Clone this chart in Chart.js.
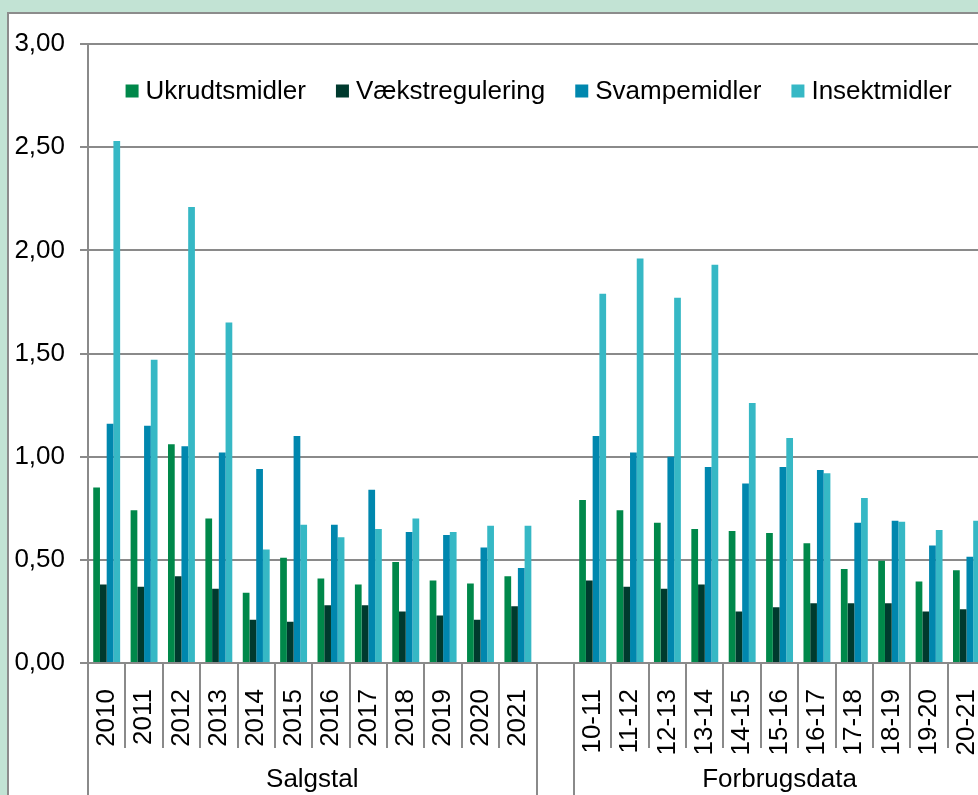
<!DOCTYPE html>
<html>
<head>
<meta charset="utf-8">
<script src="https://cdn.jsdelivr.net/npm/chart.js@4.4.1/dist/chart.umd.min.js"></script>
<style>
  html, body { margin: 0; padding: 0; overflow: hidden; }
  body { width: 978px; height: 795px; background: #c2e3d4; position: relative; }
  .panel { position: absolute; left: 7px; top: 12px; width: 1100px; height: 900px; background: #fff; border: 2px solid #8c8c8c; }
  #chart { position: absolute; left: 0; top: 0; }
</style>
</head>
<body>
<div class="panel"></div>
<canvas id="chart" width="1016" height="830"></canvas>
<script>
// Kategorier: salgstal (år), tom plads, forbrugsdata (sæsoner)
const labels = ['2010', '2011', '2012', '2013', '2014', '2015', '2016', '2017', '2018', '2019', '2020', '2021', '',
  '10-11', '11-12', '12-13', '13-14', '14-15', '15-16', '16-17', '17-18', '18-19', '19-20', '20-21'];

const ukrudtsmidler = [0.85, 0.74, 1.06, 0.70, 0.34, 0.51, 0.41, 0.38, 0.49, 0.40, 0.385, 0.42, null,
  0.79, 0.74, 0.68, 0.65, 0.64, 0.63, 0.58, 0.455, 0.495, 0.395, 0.45];
const vaekstregulering = [0.38, 0.37, 0.42, 0.36, 0.21, 0.20, 0.28, 0.28, 0.25, 0.23, 0.21, 0.275, null,
  0.40, 0.37, 0.36, 0.38, 0.25, 0.27, 0.29, 0.29, 0.29, 0.25, 0.26];
const svampemidler = [1.16, 1.15, 1.05, 1.02, 0.94, 1.10, 0.67, 0.84, 0.635, 0.62, 0.56, 0.46, null,
  1.10, 1.02, 1.00, 0.95, 0.87, 0.95, 0.935, 0.68, 0.69, 0.57, 0.515];
const insektmidler = [2.53, 1.47, 2.21, 1.65, 0.55, 0.67, 0.61, 0.65, 0.70, 0.635, 0.665, 0.665, null,
  1.79, 1.96, 1.77, 1.93, 1.26, 1.09, 0.92, 0.80, 0.685, 0.645, 0.69];

const groups = [
  { label: 'Salgstal', from: 0, to: 11 },
  { label: 'Forbrugsdata', from: 13, to: 23 }
];

const yMin = 0;
const yMax = 3;
const yStep = 0.5;

const FONT = "'Liberation Sans', Arial, sans-serif";
const GRID = '#8a8a8a';

// Grupperet x-akse: skillelinjer og gruppenavne
const groupAxis = {
  id: 'groupAxis',
  afterDraw(chart) {
    const ctx = chart.ctx;
    const x = chart.scales.x;
    const area = chart.chartArea;
    const half = (x.getPixelForValue(1) - x.getPixelForValue(0)) / 2;
    const edges = [];
    groups.forEach(g => { edges.push(g.from, g.to + 1); });

    ctx.save();
    ctx.strokeStyle = GRID;
    ctx.lineWidth = 2;
    for (let i = 0; i <= labels.length; i++) {
      const px = Math.round(x.getPixelForValue(i) - half);
      ctx.beginPath();
      ctx.moveTo(px, area.bottom);
      ctx.lineTo(px, edges.includes(i) ? chart.height : area.bottom + 85);
      ctx.stroke();
    }

    ctx.fillStyle = '#000';
    ctx.font = '26px ' + FONT;
    ctx.textAlign = 'center';
    ctx.textBaseline = 'middle';
    groups.forEach(g => {
      const cx = (x.getPixelForValue(g.from) + x.getPixelForValue(g.to)) / 2;
      ctx.fillText(g.label, cx, 780);
    });
    ctx.restore();
  }
};

// Forklaring inde i plotområdet
const innerLegend = {
  id: 'innerLegend',
  afterDraw(chart) {
    const ctx = chart.ctx;
    const area = chart.chartArea;
    const box = 13, gap = 7, spacing = 30;
    ctx.save();
    ctx.font = '26px ' + FONT;
    const items = chart.data.datasets.map(ds => ({ text: ds.label, color: ds.backgroundColor, w: ctx.measureText(ds.label).width }));
    const total = items.reduce((s, it) => s + box + gap + it.w, 0) + spacing * (items.length - 1);
    let px = (area.left + area.right) / 2 + 2 - total / 2;
    const cy = area.top + 47;
    ctx.textBaseline = 'middle';
    ctx.textAlign = 'left';
    items.forEach(it => {
      ctx.fillStyle = it.color;
      ctx.fillRect(px, cy - box / 2, box, box);
      ctx.fillStyle = '#000';
      ctx.fillText(it.text, px + box + gap, cy + 1);
      px += box + gap + it.w + spacing;
    });
    ctx.restore();
  }
};

const ctx = document.getElementById('chart');
new Chart(ctx, {
  type: 'bar',
  data: {
    labels: labels,
    datasets: [
      { label: 'Ukrudtsmidler', data: ukrudtsmidler, backgroundColor: '#00884a' },
      { label: 'Vækstregulering', data: vaekstregulering, backgroundColor: '#003a2e' },
      { label: 'Svampemidler', data: svampemidler, backgroundColor: '#0087ae' },
      { label: 'Insektmidler', data: insektmidler, backgroundColor: '#36b8c5' }
    ]
  },
  options: {
    responsive: false,
    animation: false,
    devicePixelRatio: 1,
    layout: { padding: { top: 44, right: 16, left: 0, bottom: 0 } },
    datasets: {
      bar: { barPercentage: 1, categoryPercentage: 0.72, borderWidth: 0 }
    },
    plugins: {
      legend: { display: false },
      tooltip: { enabled: false }
    },
    scales: {
      x: {
        grid: { display: false },
        border: { display: true, color: GRID, width: 2 },
        ticks: {
          color: '#000',
          font: { family: FONT, size: 26 },
          minRotation: 90,
          maxRotation: 90,
          autoSkip: false,
          padding: 18
        },
        afterFit(scale) { scale.height = 167; }
      },
      y: {
        min: yMin,
        max: yMax,
        grid: { color: GRID, lineWidth: 2, tickLength: 8 },
        border: { display: true, color: GRID, width: 2 },
        ticks: {
          stepSize: yStep,
          color: '#000',
          font: { family: FONT, size: 26 },
          padding: 15,
          callback: v => v.toFixed(2).replace('.', ',')
        },
        afterFit(scale) { scale.width = 88; }
      }
    }
  },
  plugins: [groupAxis, innerLegend]
});
</script>
</body>
</html>
